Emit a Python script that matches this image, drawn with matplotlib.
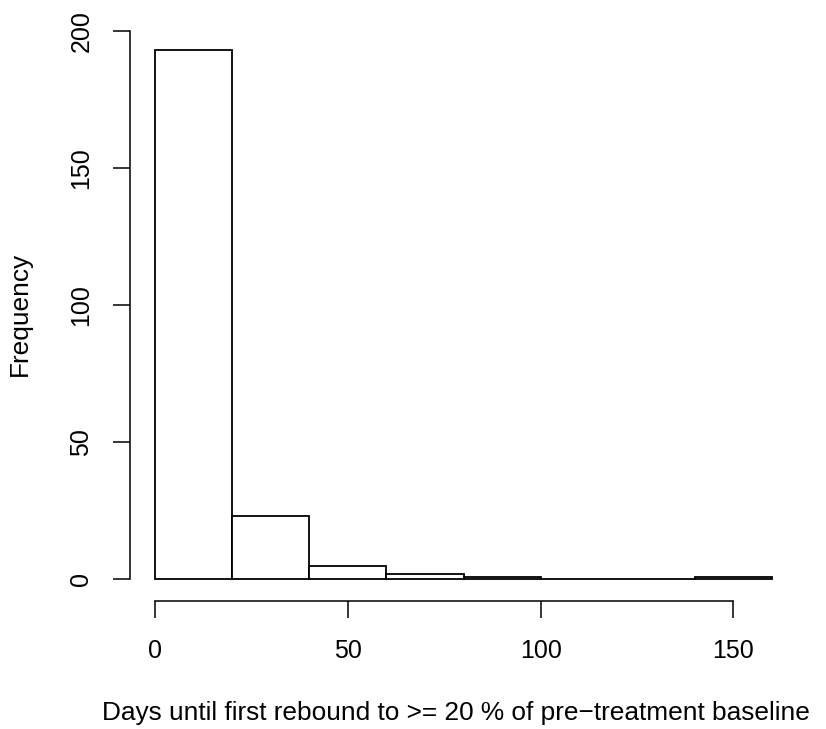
import numpy as np
import matplotlib
matplotlib.use("Agg")
import matplotlib.pyplot as plt

plt.rcParams['font.family'] = ['Liberation Sans', 'DejaVu Sans']

# histogram: bin edges (days) and counts
bin_edges = [0, 20, 40, 60, 80, 100, 120, 140, 160]
counts = [193, 23, 5, 2, 1, 0, 0, 1]
x_ticks = [0, 50, 100, 150]
y_ticks = [0, 50, 100, 150, 200]

W, H = 826, 729
fig = plt.figure(figsize=(W / 100, H / 100), dpi=100)

# plot region in pixels (R-style 4% padding around the data range)
left, right, top, bottom = 130.3, 796.7, 29.3, 600.5
ax = fig.add_axes([left / W, 1 - bottom / H, (right - left) / W, (bottom - top) / H])

widths = np.diff(bin_edges)
ax.bar(bin_edges[:-1], counts, width=widths, align='edge',
       facecolor='white', edgecolor='black', linewidth=1.3)

xr = bin_edges[-1] - bin_edges[0]
ax.set_xlim(bin_edges[0] - 0.04 * xr, bin_edges[-1] + 0.04 * xr)
yr = max(counts)
ax.set_ylim(-0.04 * yr, yr * 1.04)

for s in ['top', 'right']:
    ax.spines[s].set_visible(False)
ax.spines['left'].set_bounds(y_ticks[0], y_ticks[-1])
ax.spines['bottom'].set_bounds(x_ticks[0], x_ticks[-1])
for s in ['left', 'bottom']:
    ax.spines[s].set_linewidth(1.1)

ax.set_xticks(x_ticks)
ax.set_xticklabels([str(v) for v in x_ticks])
ax.set_yticks(y_ticks)
ax.set_yticklabels([str(v) for v in y_ticks], rotation=90, va='center')
ax.tick_params(axis='both', direction='out', length=12, width=1.1,
               labelsize=18)
ax.tick_params(axis='x', pad=16)
ax.tick_params(axis='y', pad=14.5)

fig.text(19.4 / W, 1 - 314 / H, 'Frequency', rotation=90,
         ha='center', va='center', fontsize=18.9)
fig.text(456 / W, 1 - 713 / H,
         'Days until first rebound to >= 20 % of pre\u2212treatment baseline',
         ha='center', va='center', fontsize=18.9)

fig.savefig('out.png', dpi=100)
